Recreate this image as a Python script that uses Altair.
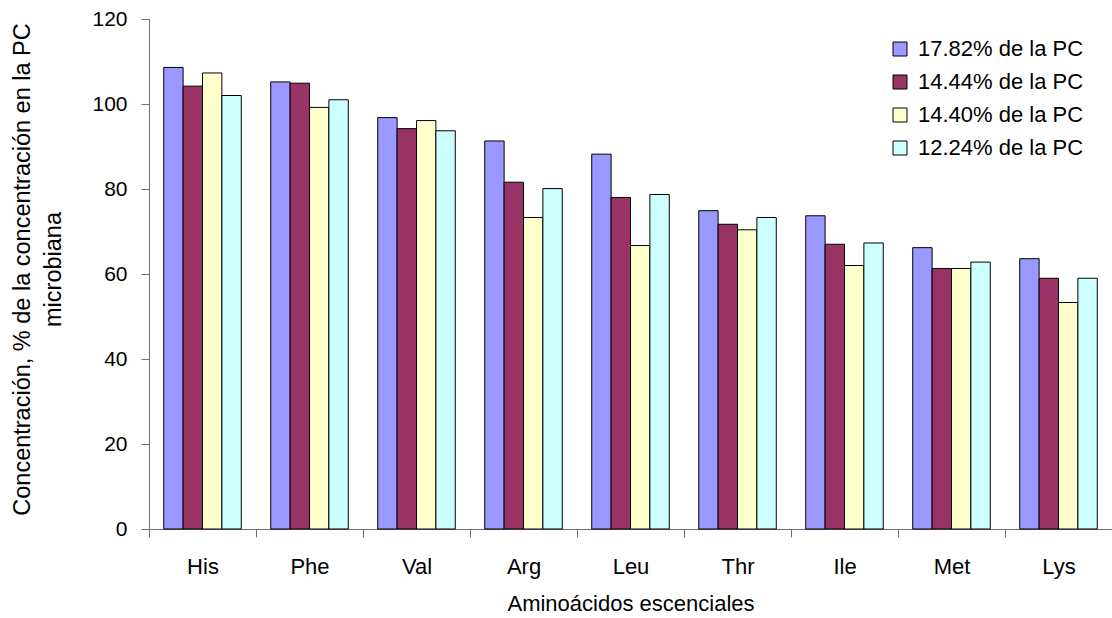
import altair as alt
import pandas as pd

categories = ["His", "Phe", "Val", "Arg", "Leu", "Thr", "Ile", "Met", "Lys"]
series_names = ["17.82% de la PC", "14.44% de la PC", "14.40% de la PC", "12.24% de la PC"]
s_1782 = [108.6, 105.2, 96.8, 91.3, 88.2, 74.9, 73.7, 66.2, 63.6]
s_1444 = [104.2, 104.9, 94.2, 81.6, 78.0, 71.7, 67.0, 61.3, 59.0]
s_1440 = [107.3, 99.2, 96.1, 73.3, 66.7, 70.4, 62.0, 61.3, 53.3]
s_1224 = [102.0, 101.0, 93.7, 80.1, 78.7, 73.3, 67.3, 62.8, 59.0]
colors = ["#9999FF", "#993366", "#FFFFCC", "#CCFFFF"]
y_ticks = [0, 20, 40, 60, 80, 100, 120]

rows = []
for name, vals in zip(series_names, [s_1782, s_1444, s_1440, s_1224]):
    for c, v in zip(categories, vals):
        rows.append({"aa": c, "serie": name, "valor": v})
df = pd.DataFrame(rows)

FONT = "Liberation Sans"
AXIS_COLOR = "#707070"

chart = alt.Chart(df).mark_bar(stroke="#000000", strokeWidth=1).encode(
    x=alt.X(
        "aa:N",
        sort=categories,
        scale=alt.Scale(paddingInner=0, paddingOuter=0),
        axis=alt.Axis(
            title="Aminoácidos escenciales",
            labelAngle=0,
            labelFontSize=22,
            labelFont=FONT,
            labelColor="#000000",
            labelPadding=19,
            tickBand="extent",
            tickSize=8,
            tickColor=AXIS_COLOR,
            domainColor=AXIS_COLOR,
            titleFontSize=22,
            titleFont=FONT,
            titleFontWeight="normal",
            titleColor="#000000",
            titleBaseline="alphabetic",
            titleY=81,
        ),
    ),
    xOffset=alt.XOffset(
        "serie:N",
        sort=series_names,
        scale=alt.Scale(paddingOuter=0.76, paddingInner=0),
    ),
    y=alt.Y(
        "valor:Q",
        scale=alt.Scale(domain=[0, 120], nice=False),
        axis=alt.Axis(
            title=["Concentración, % de la concentración en la PC", "microbiana"],
            values=y_ticks,
            grid=False,
            labelFontSize=21,
            labelFont=FONT,
            labelColor="#000000",
            labelPadding=14,
            tickSize=8,
            tickColor=AXIS_COLOR,
            domainColor=AXIS_COLOR,
            titleFontSize=23.5,
            titleFont=FONT,
            titleFontWeight="normal",
            titleColor="#000000",
            titleAngle=270,
            titleAlign="center",
            titleBaseline="alphabetic",
            titleLineHeight=31,
            titleX=-120,
            titleY=250,
            titleLimit=1000,
        ),
    ),
    color=alt.Color(
        "serie:N",
        sort=series_names,
        scale=alt.Scale(domain=series_names, range=colors),
        legend=alt.Legend(
            title=None,
            orient="none",
            legendX=740,
            legendY=19,
            padding=0,
            symbolType="square",
            symbolSize=196,
            symbolStrokeColor="#000000",
            symbolStrokeWidth=1,
            symbolOpacity=1,
            labelFontSize=22,
            labelFont=FONT,
            labelColor="#000000",
            labelOffset=7,
            labelLimit=400,
            rowPadding=11,
        ),
    ),
).properties(
    width=963,
    height=510,
    autosize=alt.AutoSizeParams(type="none"),
    padding={"left": 149, "top": 19, "right": 0, "bottom": 89},
    background="#ffffff",
).configure_view(stroke=None)

chart.save("out.html", embed_options={"renderer": "svg", "actions": False})
